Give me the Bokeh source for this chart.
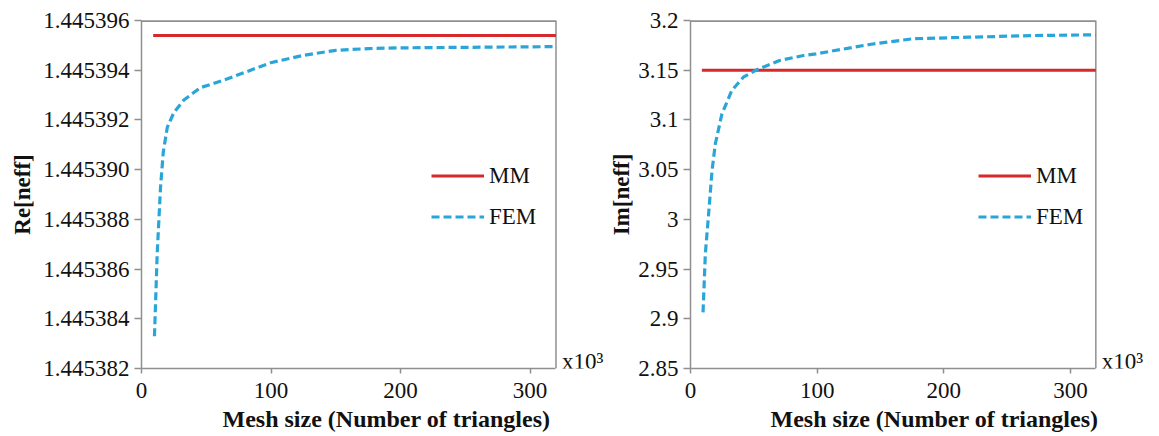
from bokeh.plotting import figure
from bokeh.layouts import row
from bokeh.models import (Range1d, FixedTicker, CustomJSTickFormatter, Legend,
                          LegendItem, Label, Title)
from bokeh.embed import file_html
from bokeh.resources import INLINE

# ---------------- data (mesh size in units of 10^3 triangles) ----------------
mesh_ticks = [0, 100, 200, 300]
mesh_end = 320

re_ticks = [1.445382, 1.445384, 1.445386, 1.445388, 1.445390, 1.445392, 1.445394, 1.445396]
fem_mesh_re = [10.0, 12.1, 14.7, 16.8, 19.9, 25.0, 32.7, 45.6, 63.4, 84.2, 99.7,
               125, 150, 175, 200, 250, 320]
fem_re = [1.4453833, 1.4453866, 1.4453893, 1.4453907, 1.4453917, 1.4453923,
          1.4453928, 1.4453933, 1.4453936, 1.4453940, 1.4453943, 1.4453946,
          1.4453948, 1.44539487, 1.4453949, 1.44539492, 1.44539495]
mm_mesh_re = [9, 320]
mm_re = [1.4453954, 1.4453954]

im_ticks = [2.85, 2.9, 2.95, 3.0, 3.05, 3.1, 3.15, 3.2]
fem_mesh_im = [9.9, 11.7, 14.3, 17.0, 19.6, 24.8, 32.6, 41.7, 52.2, 70.4, 89.2,
               99.2, 141.4, 175.3, 219.7, 271.6, 320]
fem_im = [2.9065, 2.965, 3.0055, 3.049, 3.076, 3.106, 3.1296, 3.143, 3.1504,
          3.1598, 3.1648, 3.1665, 3.1759, 3.1816, 3.1832, 3.1849, 3.1856]
mm_mesh_im = [9, 320]
mm_im = [3.15, 3.15]

FONT = "Liberation Serif"
RED = "#d7282b"
BLUE = "#2aa5da"
GRAY = "#8f8f8f"
INK = "#111111"


def make_panel(width, b_left, b_right, x_end, yr, yticks, fmt_code, ylabel,
               label_standoff, fx, fy, mx, my, leg_x, title_off):
    p = figure(width=width, height=436, output_backend="svg", toolbar_location=None,
               x_range=Range1d(0, x_end), y_range=Range1d(yr[0], yr[1]),
               min_border_left=b_left, min_border_right=b_right,
               min_border_top=20, min_border_bottom=68)
    p.grid.visible = False
    p.outline_line_color = None
    p.background_fill_color = "white"
    p.border_fill_color = "white"

    # plot box: top and right edges of the frame that ends at mesh_end
    p.line([0, mesh_end, mesh_end], [yr[1], yr[1], yr[0]],
           line_color=GRAY, line_width=1.5)
    p.line([0, mesh_end], [yr[1], yr[1]], line_color=GRAY, line_width=3)

    p.xaxis.bounds = (0, mesh_end)
    p.axis.axis_line_color = GRAY
    p.axis.axis_line_width = 1.5
    p.axis.major_tick_line_color = GRAY
    p.axis.major_tick_line_width = 1.5
    p.axis.major_tick_in = 0
    p.axis.minor_tick_line_color = None
    p.axis.major_label_text_font = FONT
    p.axis.major_label_text_font_size = "23px"
    p.axis.major_label_text_color = INK

    p.xaxis.ticker = FixedTicker(ticks=mesh_ticks)
    p.xaxis.major_tick_out = 5
    p.xaxis.major_label_standoff = 9
    p.yaxis.ticker = FixedTicker(ticks=yticks)
    p.yaxis.formatter = CustomJSTickFormatter(code=fmt_code)
    p.yaxis.major_tick_out = 7
    p.yaxis.major_label_standoff = 5
    p.yaxis.axis_label = ylabel
    p.yaxis.axis_label_text_font = FONT
    p.yaxis.axis_label_text_font_size = "23px"
    p.yaxis.axis_label_text_font_style = "bold"
    p.yaxis.axis_label_text_color = INK
    p.yaxis.axis_label_standoff = label_standoff

    t = Title(text="Mesh size (Number of triangles)", align="left",
              text_font=FONT, text_font_size="24px", text_font_style="bold",
              text_color=INK, standoff=6, offset=title_off)
    p.add_layout(t, "below")

    r_mm = p.line(mx, my, line_color=RED, line_width=3)
    r_fem = p.line(fx, fy, line_color=BLUE, line_width=3.2, line_dash="8 4")

    leg = Legend(items=[LegendItem(label="MM", renderers=[r_mm]),
                        LegendItem(label="FEM", renderers=[r_fem])],
                 location=(leg_x, 138), orientation="vertical",
                 glyph_width=53, glyph_height=27, label_height=27,
                 spacing=14, padding=0, margin=0, label_standoff=5,
                 label_text_font=FONT, label_text_font_size="23px",
                 label_text_color=INK,
                 border_line_color=None, background_fill_alpha=0)
    p.add_layout(leg, "center")

    lab = Label(x=mesh_end, y=yr[0], text="x10\u00b3", x_offset=6, y_offset=-5,
                text_baseline="bottom", text_font=FONT,
                text_font_size="23px", text_color=INK)
    p.add_layout(lab)
    return p


p1 = make_panel(606, 141, 0, 359, (1.445382, 1.445396), re_ticks,
                "return tick.toFixed(6);", "Re[neff]", 5,
                fem_mesh_re, fem_re, mm_mesh_re, mm_re, 290, 81)
p2 = make_panel(545, 80, 5, 360, (2.85, 3.2), im_ticks,
                "return String(Number(tick.toFixed(2)));", "Im[neff]", 1,
                fem_mesh_im, fem_im, mm_mesh_im, mm_im, 288, 80)

layout = row(p1, p2)
open("out.html", "w").write(file_html(layout, INLINE))
